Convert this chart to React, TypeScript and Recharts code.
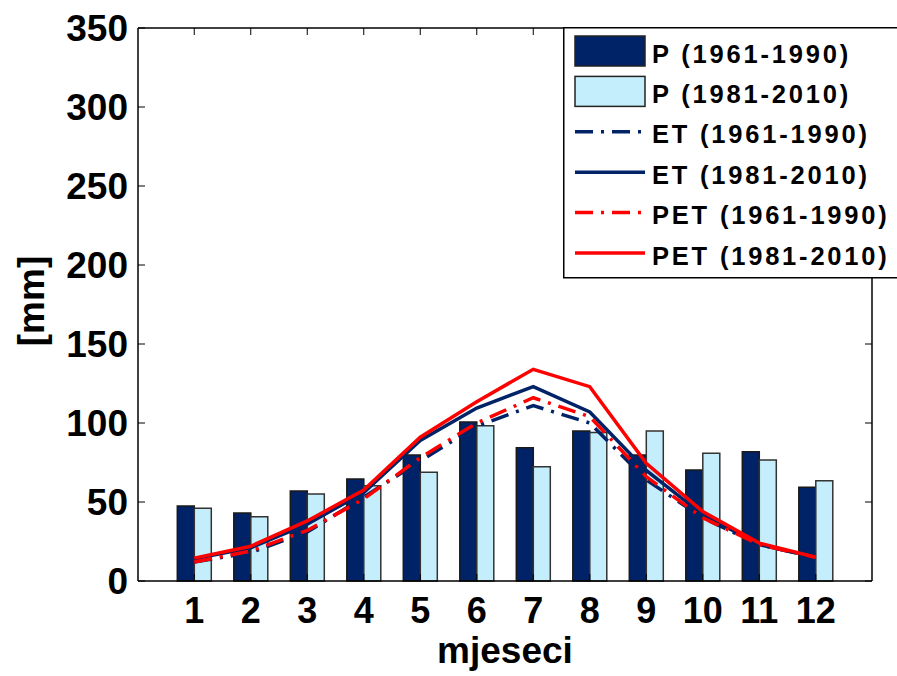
import React from 'react';
import { ComposedChart, Bar, Line, XAxis, YAxis } from 'recharts';

const months = ['1', '2', '3', '4', '5', '6', '7', '8', '9', '10', '11', '12'];
const p6190 = [47.5, 43, 57, 64.5, 79.7, 100.6, 84.4, 95, 79.7, 70.3, 81.8, 59.3];
const p8110 = [46, 40.7, 55, 60.3, 68.8, 98.3, 72.3, 94, 95, 80.8, 76.6, 63.5];
const et6190 = [12, 18, 31, 53, 76, 98, 111, 100, 64, 40, 23, 15];
const et8110 = [14, 21, 36, 56, 89, 109.5, 123, 107, 70, 42, 23, 15];
const pet6190 = [12, 19, 32, 52, 78, 100, 116, 104, 66, 40, 23, 15];
const pet8110 = [14.5, 22, 38, 57.6, 91, 113.5, 134, 123, 74.5, 44, 24, 15];
const yTicks = [0, 50, 100, 150, 200, 250, 300, 350];

const data = months.map((m, i) => ({
  month: m,
  p6190: p6190[i],
  p8110: p8110[i],
  et6190: et6190[i],
  et8110: et8110[i],
  pet6190: pet6190[i],
  pet8110: pet8110[i],
}));

const NAVY = '#002266';
const LIGHT = '#C4EEFB';
const RED = '#FF0000';
const DASHDOT = '18 8 3 8';
const FONT = '"Liberation Sans", Arial, Helvetica, sans-serif';

const W = 897;
const H = 676;
const PL = 138;
const PR = 872;
const PT = 28;
const PB = 581;
const M = { top: PT - 1, right: W - PR - 1, left: PL - 1, bottom: H - PB - 1 };
const TICK = 7;

const legendItems = [
  { name: 'P (1961-1990)', kind: 'bar', color: NAVY },
  { name: 'P (1981-2010)', kind: 'bar', color: LIGHT },
  { name: 'ET (1961-1990)', kind: 'line', color: NAVY, dash: DASHDOT },
  { name: 'ET (1981-2010)', kind: 'line', color: NAVY },
  { name: 'PET (1961-1990)', kind: 'line', color: RED, dash: DASHDOT },
  { name: 'PET (1981-2010)', kind: 'line', color: RED },
];

const YTick = (props: any) => {
  const { y, payload } = props;
  return (
    <g>
      <text x={PL - 10} y={y} dy="0.36em" textAnchor="end" fontFamily={FONT} fontWeight="bold" fontSize={37} fill="#000">
        {payload.value}
      </text>
      <line x1={PL} x2={PL + TICK} y1={y} y2={y} stroke="#000" strokeWidth={1} />
      <line x1={PR - TICK} x2={PR} y1={y} y2={y} stroke="#000" strokeWidth={1} />
    </g>
  );
};

const XTick = (props: any) => {
  const { x, payload } = props;
  return (
    <g>
      <text x={x} y={PB + 42} textAnchor="middle" fontFamily={FONT} fontWeight="bold" fontSize={36} fill="#000">
        {payload.value}
      </text>
      <line x1={x} x2={x} y1={PB} y2={PB - TICK} stroke="#000" strokeWidth={1} />
      <line x1={x} x2={x} y1={PT} y2={PT + TICK} stroke="#000" strokeWidth={1} />
    </g>
  );
};

const Legend = () => {
  const left = 563;
  const top = 27;
  return (
    <svg
      width={W - left}
      height={260}
      style={{ position: 'absolute', left, top, overflow: 'visible' }}
    >
      <rect x={0.75} y={0.75} width={W - left + 10} height={250} fill="#fff" stroke="#000" strokeWidth={1.5} />
      {legendItems.map((it, i) => {
        const cy = 24 + i * 40.4;
        return (
          <g key={it.name}>
            {it.kind === 'bar' ? (
              <rect x={12} y={cy - 15} width={70} height={30} fill={it.color} stroke="#222" strokeWidth={1.5} />
            ) : (
              <line x1={12} x2={82} y1={cy} y2={cy} stroke={it.color} strokeWidth={3.5} strokeDasharray={it.dash} />
            )}
            <text
              x={89}
              y={cy + 11.5}
              fontFamily={FONT}
              fontWeight="bold"
              fontSize={25.5}
              letterSpacing={2.8}
              fill="#000"
            >
              {it.name}
            </text>
          </g>
        );
      })}
    </svg>
  );
};

export default function App() {
  return (
    <div style={{ position: 'absolute', left: 0, top: 0, width: W, height: H, background: '#fff' }}>
      <ComposedChart width={W} height={H} data={data} margin={M} barGap={0} barCategoryGap="20%">
        <XAxis
          dataKey="month"
          height={1}
          padding={{ left: 28, right: 28 }}
          tickSize={0}
          tickMargin={0}
          tickLine={false}
          axisLine={{ stroke: '#000', strokeWidth: 1.5 }}
          tick={<XTick />}
          interval={0}
          label={{
            content: () => (
              <text x={(PL + PR) / 2} y={663} textAnchor="middle" fontFamily={FONT} fontWeight="bold" fontSize={37} fill="#000">
                mjeseci
              </text>
            ),
          }}
        />
        <XAxis
          xAxisId="top"
          orientation="top"
          dataKey="month"
          height={1}
          tick={false}
          tickLine={false}
          axisLine={{ stroke: '#000', strokeWidth: 1.5 }}
        />
        <YAxis
          domain={[0, 350]}
          ticks={yTicks}
          width={1}
          tickSize={0}
          tickMargin={10}
          tickLine={false}
          interval={0}
          axisLine={{ stroke: '#000', strokeWidth: 1.5 }}
          tick={<YTick />}
          label={{
            content: () => (
              <g transform="translate(34,301) rotate(-90)">
                <text x={0} y={0} dy="0.26em" textAnchor="middle" fontFamily={FONT} fontWeight="bold" fontSize={37} fill="#000">
                  [mm]
                </text>
              </g>
            ),
          }}
        />
        <YAxis
          yAxisId="right"
          orientation="right"
          domain={[0, 350]}
          width={1}
          tick={false}
          tickLine={false}
          axisLine={{ stroke: '#000', strokeWidth: 1.5 }}
        />
        <Bar dataKey="p6190" name="P (1961-1990)" fill={NAVY} stroke="#1a1a1a" strokeWidth={1.5} isAnimationActive={false} />
        <Bar dataKey="p8110" name="P (1981-2010)" fill={LIGHT} stroke="#333" strokeWidth={1.5} isAnimationActive={false} />
        <Line type="linear" dataKey="et6190" name="ET (1961-1990)" stroke={NAVY} strokeWidth={3.5} strokeDasharray={DASHDOT} dot={false} activeDot={false} isAnimationActive={false} />
        <Line type="linear" dataKey="et8110" name="ET (1981-2010)" stroke={NAVY} strokeWidth={3.5} dot={false} activeDot={false} isAnimationActive={false} />
        <Line type="linear" dataKey="pet6190" name="PET (1961-1990)" stroke={RED} strokeWidth={3.5} strokeDasharray={DASHDOT} dot={false} activeDot={false} isAnimationActive={false} />
        <Line type="linear" dataKey="pet8110" name="PET (1981-2010)" stroke={RED} strokeWidth={3.5} dot={false} activeDot={false} isAnimationActive={false} />
      </ComposedChart>
      <Legend />
    </div>
  );
}
